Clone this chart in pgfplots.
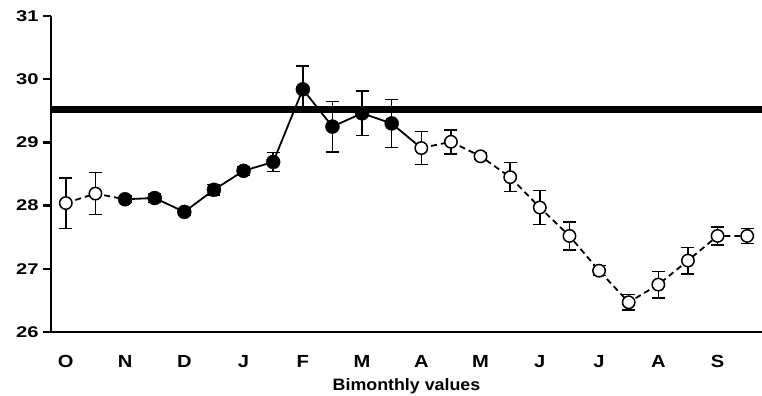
\documentclass[border=0pt]{standalone}
\usepackage{pgfplots}
\pgfplotsset{compat=1.18}
\usepackage{fontspec}
\setmainfont{Liberation Sans}
\newfontfamily\yfont[FakeStretch=1.3]{Liberation Sans}
\newfontfamily\xfont[FakeStretch=1.15]{Liberation Sans}
\newfontfamily\lfont[FakeStretch=1.08]{Liberation Sans}
\begin{document}
\begin{tikzpicture}
\begin{axis}[
  scale only axis,
  width=711pt, height=316pt,
  xmin=-0.5, xmax=23.5,
  ymin=26, ymax=31,
  axis x line*=bottom, axis y line*=left,
  axis line style={line width=2.8pt,-},
  ytick={26,27,28,29,30,31},
  xtick={0,2,4,6,8,10,12,14,16,18,20,22},
  xticklabels={O,N,D,J,F,M,A,M,J,J,A,S},
  x tick style={draw=none},
  y tick style={line width=2.4pt,black},
  tick align=outside,
  major tick length=8pt,
  /pgf/number format/assume math mode=true,
  yticklabel style={font=\yfont\fontsize{15.5}{15.5}\selectfont\bfseries, xshift=-1pt},
  xticklabel style={font=\xfont\fontsize{17.5}{17.5}\selectfont\bfseries, yshift=-12pt},
  xlabel={Bimonthly values},
  xlabel style={font=\lfont\fontsize{16.5}{16.5}\selectfont\bfseries, yshift=-4pt},
  clip=false,
  error bars/error bar style={line width=1.5pt,black},
  error bars/error mark options={rotate=90, mark size=6.5pt, line width=1.5pt},
]
% reference line
\addplot[line width=6.5pt, black] coordinates {(-0.5,29.52) (23.5,29.52)};
% dashed connections
\addplot[line width=1.8pt, black, dash pattern=on 6pt off 4pt] coordinates {
(0,28.04) (1,28.19) (2,28.10)};
\addplot[line width=1.8pt, black, dash pattern=on 6pt off 4pt] coordinates {
(12,28.91) (13,29.01) (14,28.78) (15,28.45) (16,27.97) (17,27.52) (18,26.97) (19,26.47) (20,26.75) (21,27.13) (22,27.52) (23,27.52)};
% solid connection
\addplot[line width=1.8pt, black] coordinates {
(2,28.10) (3,28.12) (4,27.90) (5,28.25) (6,28.55) (7,28.69) (8,29.84) (9,29.25) (10,29.46) (11,29.30) (12,28.91)};
% open markers
\addplot[only marks, mark=*, mark size=6.2pt, mark options={fill=white, draw=black, line width=1.5pt},
  error bars/.cd, y dir=both, y explicit] coordinates {
(0,28.04) +- (0,0.40)
(1,28.19) +- (0,0.33)
(12,28.91) +- (0,0.26)
(13,29.01) +- (0,0.19)
(14,28.78) +- (0,0.05)
(15,28.45) +- (0,0.23)
(16,27.97) +- (0,0.27)
(17,27.52) +- (0,0.22)
(18,26.97) +- (0,0.08)
(19,26.47) +- (0,0.12)
(20,26.75) +- (0,0.21)
(21,27.13) +- (0,0.21)
(22,27.52) +- (0,0.14)
(23,27.52) +- (0,0.12)
};
% filled markers
\addplot[only marks, mark=*, mark size=7pt, mark options={fill=black, draw=black},
  error bars/.cd, y dir=both, y explicit] coordinates {
(2,28.10) +- (0,0.05)
(3,28.12) +- (0,0.07)
(4,27.90) +- (0,0.05)
(5,28.25) +- (0,0.08)
(6,28.55) +- (0,0.07)
(7,28.69) +- (0,0.15)
(8,29.84) +- (0,0.37)
(9,29.25) +- (0,0.40)
(10,29.46) +- (0,0.35)
(11,29.30) +- (0,0.38)
};
\end{axis}
\pgfresetboundingbox
\path ([xshift=-51pt,yshift=-64pt]current axis.south west) rectangle ([yshift=16pt]current axis.north east);
\end{tikzpicture}
\end{document}
